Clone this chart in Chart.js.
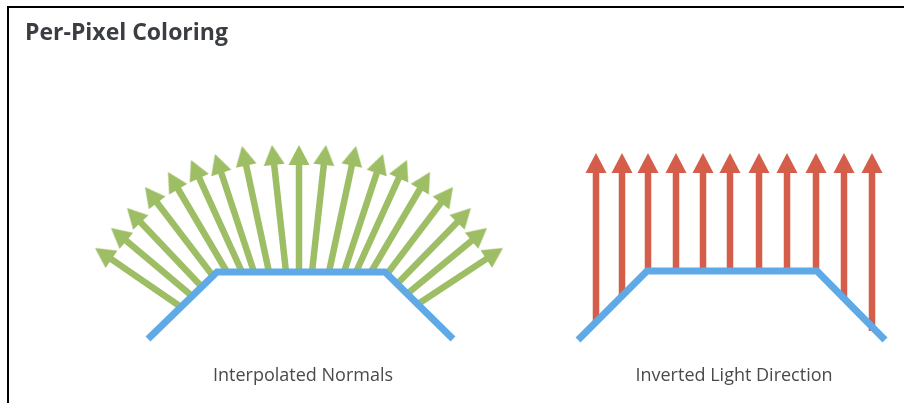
<!DOCTYPE html>
<html>
<head>
<meta charset="utf-8">
<title>Per-Pixel Coloring</title>
<script src="https://cdn.jsdelivr.net/npm/chart.js@4.4.0/dist/chart.umd.min.js"></script>
<style>
    html, body { margin: 0; padding: 0; background: #fff; }
    #wrap { position: relative; width: 904px; height: 403px; overflow: hidden; }
    #frame { position: absolute; left: 7px; top: 6px; right: -10px; bottom: -10px;
             border-left: 2.5px solid #000; border-top: 2.5px solid #000; pointer-events: none; }
    #diagram { position: absolute; left: 0; top: 0; }
</style>
</head>
<body>
<div id="wrap">
    <canvas id="diagram" width="904" height="403"></canvas>
    <div id="frame"></div>
</div>
<script>
// texts
var title = "Per-Pixel Coloring";
var titleX = 25, titleY = 363;
var captions = ["Interpolated Normals", "Inverted Light Direction"];
var captionX = [303, 734];
var captionY = 22;

// blue surfaces (diagram units, y up)
var surfaceLeftX = [148, 217, 385, 453];
var surfaceLeftY = [64, 131, 131, 64];
var surfaceRightX = [578, 647, 817, 885];
var surfaceRightY = [63, 132, 132, 63];

// green interpolated normals: tail on the surface, tip at the arrow point
var normalTailX = [181, 192, 202, 213, 227, 242, 254, 269, 286, 299, 312, 329, 344, 356, 371, 387, 397, 407, 418];
var normalTailY = [96, 107, 116, 127, 131, 131, 131, 131, 131, 131, 131, 131, 131, 131, 131, 129, 119, 109, 99];
var normalTipX = [95, 111, 127, 145, 168, 191, 215, 242, 272, 299, 326, 356, 383, 407, 430, 453, 471, 487, 503];
var normalTipY = [155, 175, 195, 216, 231, 243, 249, 257, 258, 258, 258, 257, 249, 243, 231, 216, 195, 175, 155];

// red light direction arrows
var lightX = [596, 622, 648, 676, 703, 730, 759, 787, 816, 844, 872];
var lightTailY = [81, 107, 132, 132, 132, 132, 132, 132, 132, 105, 72];
var lightTipY = [250, 250, 250, 250, 250, 250, 250, 250, 250, 250, 250];

var green = '#9dbe64';
var red = '#d45e49';
var blue = '#5ea9e6';

function makeHead(color) {
    var c = document.createElement('canvas');
    c.width = 48;
    c.height = 48;
    var g = c.getContext('2d');
    g.fillStyle = color;
    g.beginPath();
    g.moveTo(24, 6);
    g.lineTo(34.5, 26);
    g.lineTo(13.5, 26);
    g.closePath();
    g.fill();
    return c;
}

var greenHead = makeHead(green);
var redHead = makeHead(red);

function arrow(tx, ty, hx, hy, color, head) {
    var dx = hx - tx, dy = hy - ty;
    var len = Math.sqrt(dx * dx + dy * dy);
    // shaft stops under the head, the head image is centred on that point
    var bx = hx - 18 * dx / len, by = hy - 18 * dy / len;
    return {
        data: [{ x: tx, y: ty }, { x: bx, y: by }],
        showLine: true,
        borderColor: color,
        borderWidth: 6.5,
        borderCapStyle: 'butt',
        pointRadius: [0, 10],
        pointStyle: head,
        pointRotation: Math.atan2(dx, dy) * 180 / Math.PI,
        pointBackgroundColor: color
    };
}

function surface(xs, ys) {
    var pts = [];
    for (var i = 0; i < xs.length; i++) pts.push({ x: xs[i], y: ys[i] });
    return {
        data: pts,
        showLine: true,
        borderColor: blue,
        borderWidth: 7,
        borderCapStyle: 'butt',
        borderJoinStyle: 'miter',
        pointRadius: 0
    };
}

// first datasets are drawn last, so the surfaces sit on top of the arrow tails
var datasets = [surface(surfaceLeftX, surfaceLeftY), surface(surfaceRightX, surfaceRightY)];
for (var i = 0; i < normalTailX.length; i++) {
    datasets.push(arrow(normalTailX[i], normalTailY[i], normalTipX[i], normalTipY[i], green, greenHead));
}
for (var j = 0; j < lightX.length; j++) {
    datasets.push(arrow(lightX[j], lightTailY[j], lightX[j], lightTipY[j], red, redHead));
}

var texts = {
    id: 'texts',
    afterDraw: function (chart) {
        var c = chart.ctx, xs = chart.scales.x, ys = chart.scales.y;
        c.save();
        c.textBaseline = 'alphabetic';
        c.textAlign = 'left';
        c.fillStyle = '#3a3d41';
        c.font = 'bold 23px "Open Sans"';
        c.fillText(title, xs.getPixelForValue(titleX), ys.getPixelForValue(titleY));
        c.textAlign = 'center';
        c.fillStyle = '#4a4a4a';
        c.font = '18px "Open Sans"';
        for (var k = 0; k < captions.length; k++) {
            c.fillText(captions[k], xs.getPixelForValue(captionX[k]), ys.getPixelForValue(captionY));
        }
        c.restore();
    }
};

var ctx = document.getElementById('diagram').getContext('2d');
var graphique = new Chart(ctx, {
    type: 'scatter',
    data: { datasets: datasets },
    options: {
        responsive: false,
        animation: false,
        events: [],
        layout: { padding: 0, autoPadding: false },
        plugins: {
            legend: { display: false },
            tooltip: { enabled: false },
            title: { display: false }
        },
        scales: {
            x: { type: 'linear', min: 0, max: 904, display: false },
            y: { type: 'linear', min: 0, max: 403, display: false }
        }
    },
    plugins: [texts]
});
</script>
</body>
</html>
